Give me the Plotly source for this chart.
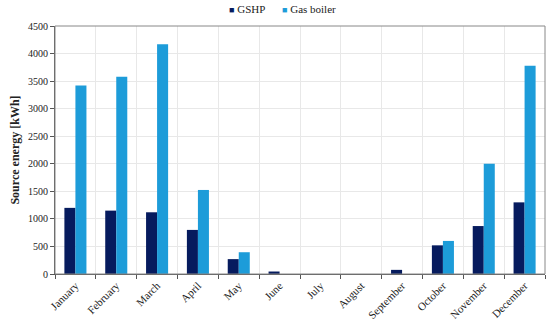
import plotly.graph_objects as go

months = ["January", "February", "March", "April", "May", "June", "July",
          "August", "September", "October", "November", "December"]
gshp = [1200, 1150, 1120, 800, 270, 45, 0, 0, 75, 520, 870, 1300]
gas_boiler = [3420, 3580, 4170, 1525, 395, 0, 0, 0, 0, 600, 2000, 3780]

series_names = ["GSHP", "Gas boiler"]
colors = ["#061b5e", "#1d9cd9"]

font_family = "Liberation Serif, DejaVu Serif, serif"

fig = go.Figure()
for name, vals, c in zip(series_names, [gshp, gas_boiler], colors):
    fig.add_trace(go.Bar(x=months, y=vals, name=name, marker_color=c,
                         marker_line_width=0, showlegend=False))

fig.update_layout(
    width=550, height=324,
    margin=dict(l=55, r=5, t=26, b=50, autoexpand=False),
    barmode="group", bargap=0.46, bargroupgap=0,
    plot_bgcolor="white", paper_bgcolor="white",
    font=dict(family=font_family, size=10, color="#222"),
)
legend_x = [0.35, 0.46]
for name, c, lx in zip(series_names, colors, legend_x):
    fig.add_annotation(xref="paper", yref="paper", x=lx, y=1.0, yshift=17,
                       xanchor="left", yanchor="middle", showarrow=False,
                       text=f"<span style='color:{c};font-size:9px'>■</span> {name}",
                       font=dict(size=11, family=font_family, color="#222"))

fig.update_xaxes(
    tickson="boundaries", ticks="outside", ticklen=4, tickcolor="#555",
    showgrid=True, gridcolor="#e8e8e8", gridwidth=1,
    showline=True, linecolor="#555", linewidth=1, mirror=False,
    tickangle=-45, tickfont=dict(size=11),
)
fig.update_yaxes(
    range=[0, 4500], dtick=500, ticks="outside", ticklen=4, tickcolor="#555",
    showgrid=True, gridcolor="#e8e8e8",
    showline=True, linecolor="#555", linewidth=1, mirror=False,
    tickfont=dict(size=10),
    title=dict(text="<b>Source energy [kWh]</b>", font=dict(size=12), standoff=5),
    zeroline=False,
)
fig.add_shape(type="rect", xref="paper", yref="paper", x0=0, y0=0, x1=1, y1=1,
              line=dict(color="#888", width=1), layer="above")

fig.write_html("out.html", config={"displayModeBar": False},
               post_script="document.body.style.margin='0';document.body.style.overflow='hidden';")
